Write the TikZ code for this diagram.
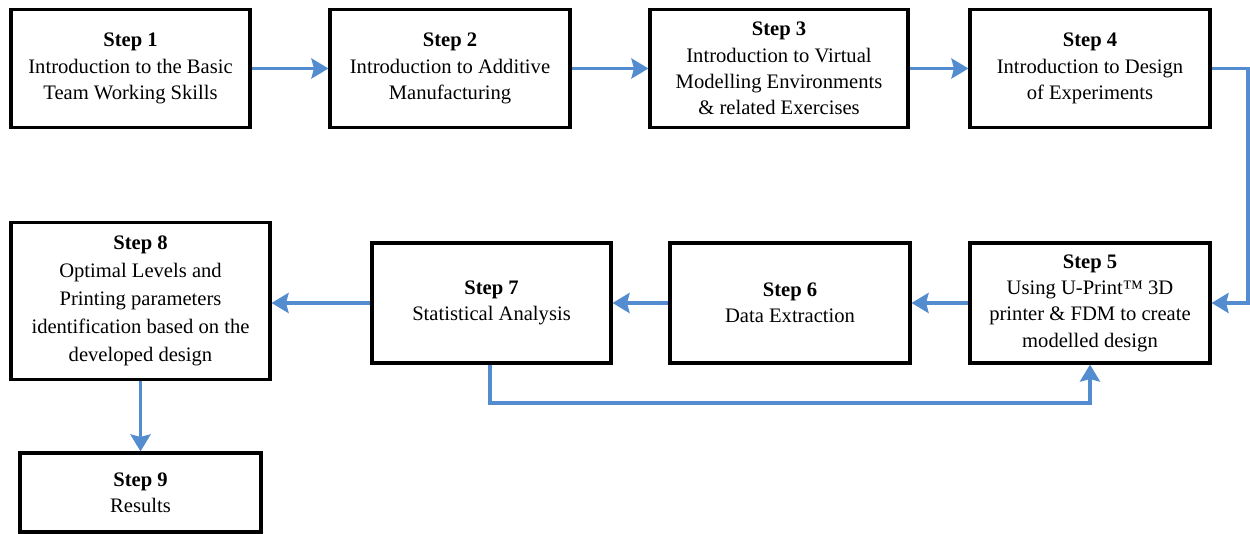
\documentclass[tikz,border=0pt]{standalone}
\usepackage{fontspec}
\setmainfont{Liberation Serif}
\usetikzlibrary{arrows.meta}
\definecolor{arrowblue}{RGB}{84,141,207}
\begin{document}
\begin{tikzpicture}[x=1pt,y=-1pt,
  stepbox/.style={draw=black,line width=3.1pt,fill=white,align=center,inner sep=0pt,
    font=\fontsize{20.6}{26.3}\selectfont,execute at begin node={\rule{0pt}{19pt}}},
  conn/.style={draw=arrowblue,line width=3.6pt,-{Stealth[length=17pt,width=20pt,inset=2.5pt]}}]
\useasboundingbox (0,0) rectangle (1250,534);
\node[stepbox,minimum width=239pt,minimum height=118pt] (s1) at (130.5,68.5) {\textbf{Step 1}\\Introduction to the Basic\\Team Working Skills};
\node[stepbox,minimum width=240pt,minimum height=118pt] (s2) at (450,68.5) {\textbf{Step 2}\\Introduction to Additive\\Manufacturing};
\node[stepbox,minimum width=258pt,minimum height=118pt] (s3) at (779,68.5) {\textbf{Step 3}\\Introduction to Virtual\\Modelling Environments\\\& related Exercises};
\node[stepbox,minimum width=240pt,minimum height=118pt] (s4) at (1090,68.5) {\textbf{Step 4}\\Introduction to Design\\of Experiments};
\node[stepbox,minimum width=240pt,minimum height=120pt] (s5) at (1090,303) {\textbf{Step 5}\\Using U-Print™ 3D\\printer \& FDM to create\\modelled design};
\node[stepbox,minimum width=240pt,minimum height=120pt] (s6) at (790,303) {\textbf{Step 6}\\Data Extraction};
\node[stepbox,minimum width=239pt,minimum height=120pt] (s7) at (491.5,303) {\textbf{Step 7}\\Statistical Analysis};
\node[stepbox,minimum width=259pt,minimum height=157pt,font=\fontsize{20.6}{28}\selectfont] (s8) at (140.5,301) {\textbf{Step 8}\\Optimal Levels and\\Printing parameters\\identification based on the\\developed design};
\node[stepbox,minimum width=241pt,minimum height=79pt] (s9) at (140.5,492.5) {\textbf{Step 9}\\Results};
\coordinate (c4a) at (1248,68.5);
\coordinate (c4b) at (1248,303);
\coordinate (c7a) at (490,403);
\coordinate (c7b) at (1090,403);
\draw[conn] (s1.east) -- (s2.west);
\draw[conn] (s2.east) -- (s3.west);
\draw[conn] (s3.east) -- (s4.west);
\draw[conn] (s4.east) -- (c4a) -- (c4b) -- (s5.east);
\draw[conn] (s5.west) -- (s6.east);
\draw[conn] (s6.west) -- (s7.east);
\draw[conn] (s7.west) -- (s7.west -| s8.east);
\draw[conn] (s8.south) -- (s9.north);
\draw[conn] (s7.south -| c7a) -- (c7a) -- (c7b) -- (s5.south -| c7b);
\end{tikzpicture}
\end{document}
